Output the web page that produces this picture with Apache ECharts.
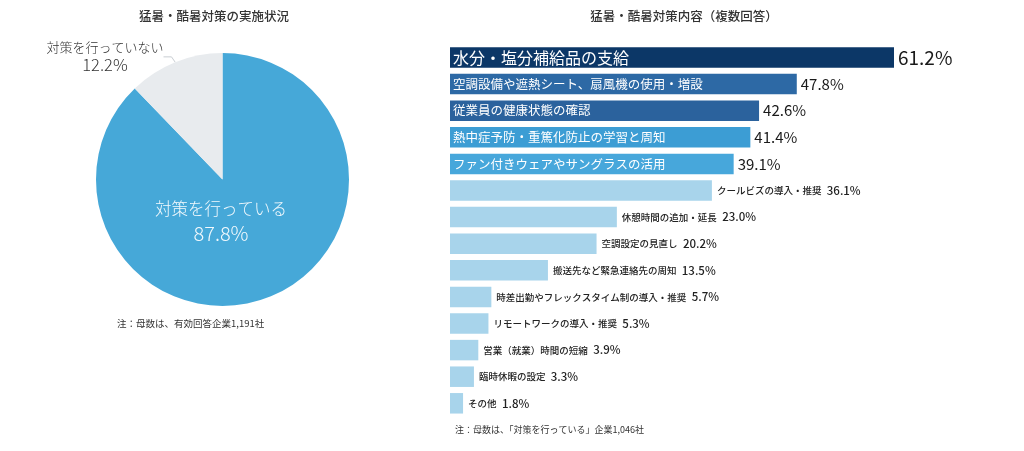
<!DOCTYPE html>
<html>
<head>
<meta charset="utf-8">
<script src="https://cdn.jsdelivr.net/npm/echarts@6/dist/echarts.min.js"></script>
<style>
  html, body { margin: 0; padding: 0; background: #fff; }
  #chart { width: 1024px; height: 451px; }
</style>
</head>
<body>
<div id="chart"></div>
<script>
// 左：実施状況（円）
const pieNames = ["対策を行っている", "対策を行っていない"];
const pieValues = [87.8, 12.2];

// 右：対策内容（複数回答）— 上から順
const measureNames = [
  "水分・塩分補給品の支給",
  "空調設備や遮熱シート、扇風機の使用・増設",
  "従業員の健康状態の確認",
  "熱中症予防・重篤化防止の学習と周知",
  "ファン付きウェアやサングラスの活用",
  "クールビズの導入・推奨",
  "休憩時間の追加・延長",
  "空調設定の見直し",
  "搬送先など緊急連絡先の周知",
  "時差出勤やフレックスタイム制の導入・推奨",
  "リモートワークの導入・推奨",
  "営業（就業）時間の短縮",
  "臨時休暇の設定",
  "その他"
];
const measureValues = [61.2, 47.8, 42.6, 41.4, 39.1, 36.1, 23.0, 20.2, 13.5, 5.7, 5.3, 3.9, 3.3, 1.8];

const FONT = "Noto Sans CJK JP";
const barColors = ["#0c3767", "#2d69a5", "#2b629d", "#3c9dd4", "#47a7db"];
const lightBar = "#a8d4eb";
const INSIDE = 5; // 上位5項目は名前をバー内に

const chart = echarts.init(document.getElementById("chart"), null, { renderer: "canvas" });

const fmtPct = (v) => v.toFixed(1) + "%";

const barData = measureValues.map((v, i) => ({
  value: v,
  itemStyle: { color: i < INSIDE ? barColors[i] : lightBar },
  label: i < INSIDE
    ? { show: true, position: "insideLeft", distance: 3, color: "#fff", fontFamily: FONT,
        fontSize: i === 0 ? 16 : 12.5, formatter: measureNames[i] }
    : { show: false }
}));

// 値ラベル用の透明バー（同じ値を重ねる）
const valueData = measureValues.map((v, i) => ({
  value: v,
  label: i < INSIDE
    ? { show: true, position: "right", distance: 4, color: "#1a1a1a", fontFamily: FONT,
        fontSize: i === 0 ? 19 : 15, formatter: fmtPct(v) }
    : { show: true, position: "right", distance: 5, fontFamily: FONT,
        formatter: "{n|" + measureNames[i] + "}  {v|" + fmtPct(v) + "}",
        rich: {
          n: { fontSize: 9.5, color: "#222", fontFamily: FONT, fontWeight: 500 },
          v: { fontSize: 11.5, color: "#222", fontFamily: FONT, fontWeight: 500 }
        } }
}));

const pieRich = (size, valSize, color, lh) => ({
  n: { fontSize: size, color: color, fontFamily: FONT, fontWeight: 300, lineHeight: lh, align: "center" },
  v: { fontSize: valSize, color: color, fontFamily: FONT, fontWeight: 300, lineHeight: lh, align: "center" }
});

const option = {
  animation: false,
  backgroundColor: "#fff",
  textStyle: { fontFamily: FONT },
  title: [
    { text: "猛暑・酷暑対策の実施状況", left: 209, top: 5, textAlign: "center",
      textStyle: { fontSize: 12.5, fontWeight: 500, color: "#333", fontFamily: FONT } },
    { text: "猛暑・酷暑対策内容（複数回答）", left: 679, top: 5, textAlign: "center",
      textStyle: { fontSize: 12.5, fontWeight: 500, color: "#333", fontFamily: FONT } },
    { text: "注：母数は、有効回答企業1,191社", left: 112, top: 314,
      textStyle: { fontSize: 9.5, fontWeight: 400, color: "#333", fontFamily: FONT } },
    { text: "注：母数は、「対策を行っている」企業1,046社", left: 450, top: 420,
      textStyle: { fontSize: 9, fontWeight: 400, color: "#333", fontFamily: FONT } }
  ],
  grid: { left: 450, top: 44.2, width: 444, height: 372.4, containLabel: false },
  xAxis: { type: "value", min: 0, max: Math.max(...measureValues), show: false },
  yAxis: {
    type: "category", data: measureNames, inverse: true,
    axisLine: { show: false }, axisTick: { show: false }, axisLabel: { show: false }
  },
  series: [
    {
      type: "pie",
      center: [222.5, 179.5],
      radius: [0, 126.5],
      startAngle: 90,
      clockwise: true,
      silent: true,
      data: [
        { name: pieNames[0], value: pieValues[0], itemStyle: { color: "#46a8d8" },
          label: { show: true, position: "inside", formatter: "{n|{b}}\n{v|{c}%}",
                   rich: pieRich(16.5, 20, "#f2f9fd", 24) },
          labelLine: { show: false } },
        { name: pieNames[1], value: pieValues[1], itemStyle: { color: "#e8ebee" },
          label: { show: true, position: "outside", formatter: "{n|{b}}\n{v|{c}%}",
                   rich: pieRich(13, 16.5, "#333", 18) },
          labelLine: { show: true, length: 6, length2: 8, lineStyle: { color: "#c8cdd2", width: 1 } } }
      ],
      labelLayout: (p) => p.dataIndex === 1
        ? { x: 105, y: 56, align: "center", verticalAlign: "middle" }
        : { x: 221, y: 221, align: "center", verticalAlign: "middle" }
    },
    {
      type: "bar",
      data: barData,
      barWidth: 20.5,
      silent: true
    },
    {
      type: "bar",
      data: valueData,
      barWidth: 20.5,
      barGap: "-100%",
      silent: true,
      itemStyle: { color: "rgba(0,0,0,0)" },
      z: 3
    }
  ]
};

chart.setOption(option);
</script>
</body>
</html>
